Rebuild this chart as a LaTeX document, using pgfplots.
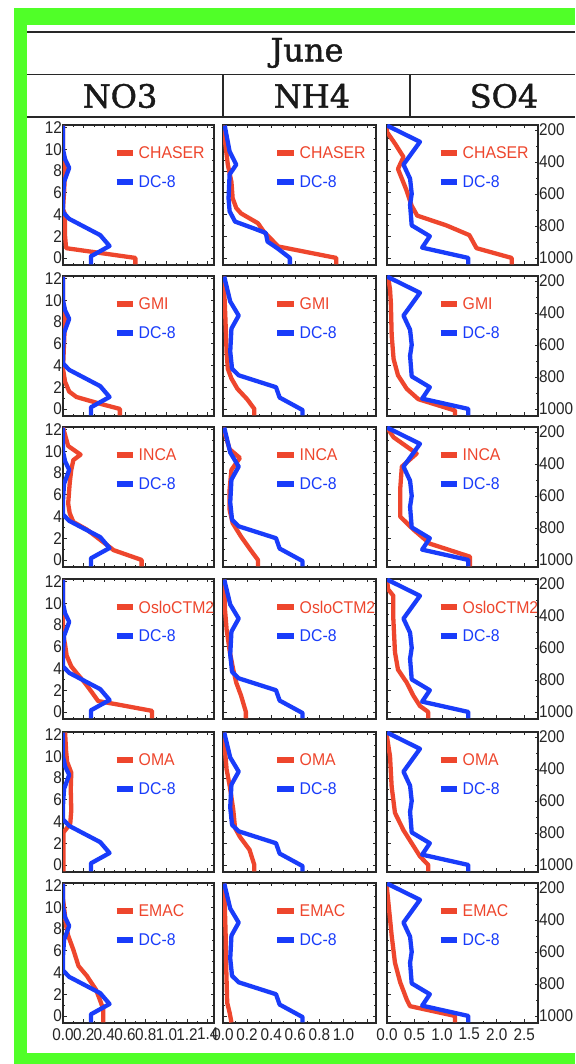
\documentclass[border=0pt]{standalone}
\usepackage{fontspec}
\setmainfont{Liberation Sans}
\newfontfamily\headfont[FakeBold=1.3]{DejaVu Serif}
\newfontfamily\legfont[FakeStretch=0.93]{Liberation Sans}
\newfontfamily\tickfont[FakeStretch=0.9]{Liberation Sans}
\usepackage{pgfplots}
\usepackage{pgfplotstable}
\pgfplotsset{compat=1.18}
\definecolor{mred}{RGB}{238,70,45}
\definecolor{mblue}{RGB}{25,60,250}
\definecolor{mgreen}{RGB}{80,255,40}
\definecolor{frame}{RGB}{40,40,40}

% ---------- NO3 ----------
\pgfplotstableread{
x y
0.27 -0.6
0.27 0.15
0.45 1.1
0.36 2.1
0.20 2.9
0.06 3.6
0.00 4.2
0.00 5.5
0.01 7.0
0.06 8.3
0.02 9.1
0.00 10.0
0.00 12.2
}\dcA
\pgfplotstableread{
x y
0.70 -0.6
0.70 0.0
0.03 0.9
0.02 2.0
0.02 4.0
0.00 4.5
0.01 6.0
0.02 8.0
0.00 9.5
0.00 12.2
}\chaserA
\pgfplotstableread{
x y
0.55 -0.6
0.55 0.0
0.35 0.5
0.13 1.1
0.06 1.6
0.02 2.5
0.00 3.7
0.01 6.0
0.02 8.5
0.00 10.0
0.00 12.2
}\gmiA
\pgfplotstableread{
x y
0.76 -0.6
0.76 0.0
0.49 0.9
0.36 1.85
0.23 2.8
0.10 3.5
0.065 4.3
0.05 5.2
0.065 7.1
0.08 8.3
0.10 9.2
0.17 9.7
0.05 10.5
0.00 12.2
}\incaA
\pgfplotstableread{
x y
0.86 -0.6
0.86 0.1
0.52 0.7
0.34 1.0
0.28 1.8
0.21 2.7
0.13 3.6
0.08 4.2
0.035 5.2
0.02 6.2
0.00 7.3
0.00 12.2
}\osloA
\pgfplotstableread{
x y
0.005 -0.6
0.005 3.0
0.07 3.8
0.08 5.0
0.075 7.0
0.08 8.5
0.04 9.5
0.03 10.5
0.02 12.2
}\omaA
\pgfplotstableread{
x y
0.39 -0.6
0.39 0.6
0.36 1.4
0.32 2.4
0.23 3.7
0.15 4.6
0.10 6.1
0.05 7.4
0.03 8.3
0.016 9.5
0.00 10.8
0.00 12.2
}\emacA

% ---------- NH4 ----------
\pgfplotstableread{
x y
0.555 -0.6
0.555 0.0
0.45 0.9
0.37 1.5
0.355 2.3
0.26 2.7
0.10 3.35
0.055 4.3
0.046 5.5
0.055 7.7
0.11 8.6
0.055 9.8
0.014 12.2
}\dcBone
\pgfplotstableread{
x y
0.66 -0.6
0.66 -0.1
0.47 1.05
0.44 2.0
0.13 3.1
0.075 3.7
0.06 5.3
0.07 7.4
0.13 8.6
0.06 9.9
0.01 12.2
}\dcB
\pgfplotstableread{
x y
0.94 -0.6
0.94 0.0
0.46 1.05
0.34 2.4
0.29 3.2
0.15 4.1
0.11 4.6
0.08 5.5
0.07 7.0
0.04 8.6
0.014 11.0
0.00 12.2
}\chaserB
\pgfplotstableread{
x y
0.26 -0.6
0.26 0.0
0.20 0.9
0.12 1.85
0.07 2.8
0.04 3.7
0.03 5.2
0.02 8.3
0.01 11.0
0.00 12.2
}\gmiB
\pgfplotstableread{
x y
0.29 -0.6
0.29 0.0
0.23 0.9
0.15 2.15
0.08 3.4
0.055 4.6
0.055 6.5
0.07 8.3
0.14 9.4
0.055 10.2
0.00 12.2
}\incaB
\pgfplotstableread{
x y
0.19 -0.6
0.19 0.0
0.15 1.5
0.11 2.7
0.085 3.9
0.057 5.5
0.03 7.6
0.016 9.5
0.01 12.2
}\osloB
\pgfplotstableread{
x y
0.26 -0.6
0.26 0.0
0.22 1.4
0.14 2.6
0.10 3.4
0.085 5.1
0.057 7.2
0.03 8.8
0.016 10.6
0.01 12.2
}\omaB
\pgfplotstableread{
x y
0.07 -0.6
0.055 0.3
0.035 1.2
0.027 4.3
0.022 7.4
0.014 10.5
0.01 12.2
}\emacB

% ---------- SO4 ----------
\pgfplotstableread{
x y
1.48 -0.6
1.48 0.0
0.64 0.95
0.78 2.0
0.45 3.0
0.42 4.9
0.45 5.9
0.42 7.3
0.30 8.6
0.60 10.7
0.00 12.2
}\dcC
\pgfplotstableread{
x y
2.27 -0.6
2.27 0.0
1.63 0.9
1.50 2.1
1.08 3.0
0.55 3.9
0.45 4.8
0.35 6.3
0.20 8.2
0.30 9.3
0.15 10.5
0.00 11.6
0.00 12.2
}\chaserC
\pgfplotstableread{
x y
1.24 -0.6
1.24 -0.15
0.57 0.9
0.36 1.85
0.20 3.1
0.12 4.6
0.085 6.8
0.07 9.8
0.055 11.0
0.02 12.2
}\gmiC
\pgfplotstableread{
x y
1.51 -0.6
1.51 0.3
0.78 1.5
0.48 2.8
0.24 4.0
0.24 6.5
0.27 8.6
0.54 9.8
0.12 11.3
0.00 12.2
}\incaC
\pgfplotstableread{
x y
0.75 -0.6
0.75 0.0
0.60 0.55
0.48 1.5
0.36 2.7
0.20 3.9
0.145 5.5
0.115 8.6
0.115 10.7
0.02 11.3
0.00 12.2
}\osloC
\pgfplotstableread{
x y
0.75 -0.6
0.75 0.0
0.60 0.8
0.45 2.0
0.30 3.2
0.145 4.8
0.085 7.2
0.055 10.0
0.00 11.8
0.00 12.2
}\omaC
\pgfplotstableread{
x y
1.24 -0.6
1.24 0.0
0.42 0.9
0.36 1.5
0.24 3.1
0.145 4.9
0.085 7.4
0.024 10.5
0.00 11.7
0.00 12.2
}\emacC

\pgfplotsset{
 panel/.style={scale only axis, width=151pt, height=140pt, anchor=south west,
   ymin=-0.65, ymax=12.25, clip mode=individual,
   axis line style={frame, line width=1.5pt},
   tick style={frame, line width=0.7pt}, tick align=inside,
   major tick length=3.5pt, minor tick length=2pt,
   ytick={0,2,4,6,8,10,12}, yticklabels={}, xticklabels={},
   minor y tick num=1, xtick pos=both, ytick pos=both,
   ticklabel style={font=\tickfont\fontsize{17}{17}\selectfont, text=black!85},
   xticklabel style={yshift=-5pt, inner sep=0pt},
   yticklabel style={inner sep=1pt}},
 c1/.style={xmin=0, xmax=1.46, xtick={0,0.2,0.4,0.6,0.8,1.0,1.2,1.4}, minor x tick num=1,
   yticklabels={0,2,4,6,8,10,12}},
 c2/.style={xmin=0, xmax=1.27, width=153pt, xtick={0,0.2,0.4,0.6,0.8,1.0,1.2}, minor x tick num=1},
 c3/.style={xmin=0, xmax=2.75, xtick={0,0.5,1.0,1.5,2.0,2.5}, minor x tick num=1, ytick pos=left},
 l1/.style={xticklabels={0.0,0.2,0.4,0.6,0.8,1.0,1.2,1.4}},
 l2/.style={xticklabels={0.0,0.2,0.4,0.6,0.8,1.0,}},
 l3/.style={xticklabels={0.0,0.5,1.0,1.5,2.0,2.5}},
 prof/.style={line width=4.3pt, line join=round, no markers}
}

\newcommand\leg[1]{%
 \draw[mred, line width=5.5pt] (rel axis cs:0.355,0.80) -- (rel axis cs:0.462,0.80);
 \node[anchor=west, text=mred, inner sep=0pt, font=\legfont\fontsize{17}{17}\selectfont] at (rel axis cs:0.50,0.80) {#1};
 \draw[mblue, line width=5.5pt] (rel axis cs:0.355,0.593) -- (rel axis cs:0.462,0.593);
 \node[anchor=west, text=mblue, inner sep=0pt, font=\legfont\fontsize{17}{17}\selectfont] at (rel axis cs:0.50,0.593) {DC-8};}

% #1 style, #2 x, #3 y, #4 name, #5 model table, #6 obs table
\newcommand\panel[6]{%
 \begin{axis}[panel,#1,at={(#2pt,#3pt)}]
 \addplot[mred,prof] table[x=x,y=y] {#5};
 \addplot[mblue,prof] table[x=x,y=y] {#6};
 \leg{#4}
 \end{axis}}

\newcommand\rightax[1]{%
 \begin{axis}[scale only axis, width=151pt, height=140pt, anchor=south west,
   at={(387pt,#1pt)}, xmin=0, xmax=1, ymin=-0.65, ymax=12.25,
   axis x line=none, axis y line*=right,
   axis line style={frame, line width=1.5pt},
   tick style={frame, line width=0.7pt}, tick align=inside,
   major tick length=3.5pt, minor tick length=2pt, minor y tick num=1,
   ytick={0,2.95,5.9,8.85,11.8}, yticklabels={1000,800,600,400,200},
   ticklabel style={font=\tickfont\fontsize{17}{17}\selectfont, text=black!85},
   yticklabel style={inner sep=1pt}]
 \end{axis}}

\begin{document}
\begin{tikzpicture}
\useasboundingbox (0,0) rectangle (575pt,1064pt);
\clip (0,0) rectangle (575pt,1064pt);
\fill[white] (0,0) rectangle (575pt,1064pt);
\fill[mgreen] (14pt,0) rectangle (575pt,1056pt);
\fill[white] (27pt,11pt) rectangle (575pt,1039pt);
% header table
\draw[frame, line width=1.8pt] (27pt,1032pt) -- (575pt,1032pt);
\draw[frame, line width=1.8pt] (27pt,989.5pt) -- (575pt,989.5pt);
\draw[frame, line width=1.8pt] (27pt,947pt) -- (575pt,947pt);
\draw[frame, line width=1.5pt] (223pt,989.5pt) -- (223pt,947pt);
\draw[frame, line width=1.5pt] (410pt,989.5pt) -- (410pt,947pt);
\node[font=\headfont\fontsize{32}{32}\selectfont, text=black!90] at (307pt,1011pt) {June};
\node[font=\headfont\fontsize{32}{32}\selectfont, text=black!90] at (120pt,968pt) {NO3};
\node[font=\headfont\fontsize{32}{32}\selectfont, text=black!90] at (312pt,968pt) {NH4};
\node[font=\headfont\fontsize{32}{32}\selectfont, text=black!90] at (504pt,968pt) {SO4};

% row 1
\panel{c1}{63}{799}{CHASER}{\chaserA}{\dcA}
\panel{c2}{223}{799}{CHASER}{\chaserB}{\dcBone}
\panel{c3}{387}{799}{CHASER}{\chaserC}{\dcC}
\rightax{799}
% row 2
\panel{c1}{63}{648}{GMI}{\gmiA}{\dcA}
\panel{c2}{223}{648}{GMI}{\gmiB}{\dcB}
\panel{c3}{387}{648}{GMI}{\gmiC}{\dcC}
\rightax{648}
% row 3
\panel{c1}{63}{497}{INCA}{\incaA}{\dcA}
\panel{c2}{223}{497}{INCA}{\incaB}{\dcB}
\panel{c3}{387}{497}{INCA}{\incaC}{\dcC}
\rightax{497}
% row 4
\panel{c1}{63}{345}{OsloCTM2}{\osloA}{\dcA}
\panel{c2}{223}{345}{OsloCTM2}{\osloB}{\dcB}
\panel{c3}{387}{345}{OsloCTM2}{\osloC}{\dcC}
\rightax{345}
% row 5
\panel{c1}{63}{192}{OMA}{\omaA}{\dcA}
\panel{c2}{223}{192}{OMA}{\omaB}{\dcB}
\panel{c3}{387}{192}{OMA}{\omaC}{\dcC}
\rightax{192}
% row 6
\panel{c1,l1}{63}{41}{EMAC}{\emacA}{\dcA}
\panel{c2,l2}{223}{41}{EMAC}{\emacB}{\dcB}
\panel{c3,l3}{387}{41}{EMAC}{\emacC}{\dcC}
\rightax{41}
\end{tikzpicture}
\end{document}
